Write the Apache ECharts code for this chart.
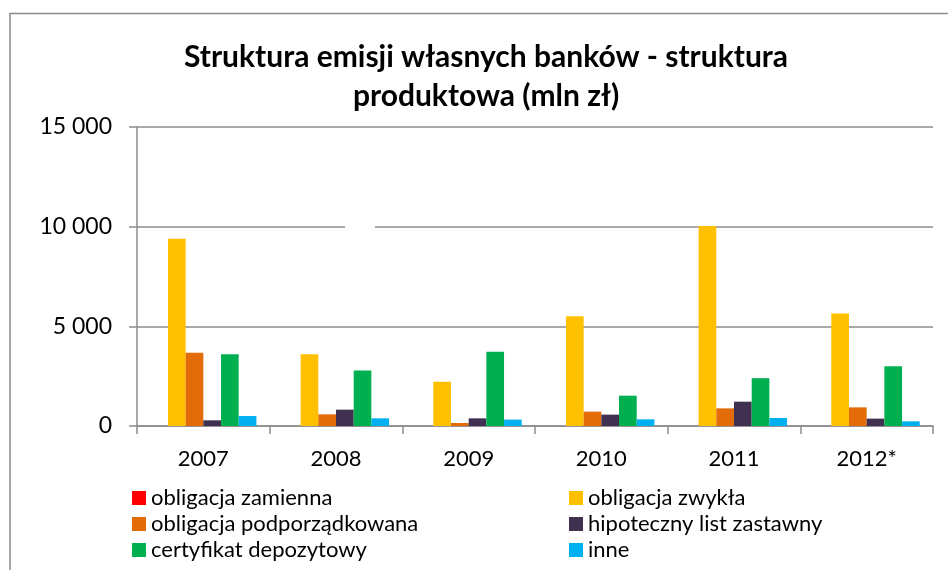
<!DOCTYPE html>
<html>
<head>
<meta charset="utf-8">
<script src="https://cdn.jsdelivr.net/npm/echarts@6/dist/echarts.min.js"></script>
<style>
  html, body { margin: 0; padding: 0; background: #fff; }
  #chart { width: 948px; height: 570px; }
</style>
</head>
<body>
<div id="chart"></div>
<script>
// dane (mln zł)
const years = ['2007', '2008', '2009', '2010', '2011', '2012*'];
const zamienna = [0, 0, 0, 0, 0, 0];
const zwykla = [9400, 3600, 2220, 5500, 10030, 5650];
const podporzadkowana = [3670, 585, 150, 720, 885, 935];
const hipoteczny = [285, 820, 385, 570, 1220, 370];
const certyfikat = [3600, 2785, 3720, 1520, 2400, 3000];
const inne = [500, 385, 320, 335, 400, 235];
const yTicks = [0, 5000, 10000, 15000];

const FONT = 'Lato';
const GRID_COLOR = '#8c8c8c';

const seriesList = [
  { name: 'obligacja zamienna', color: '#FF0000', data: zamienna },
  { name: 'obligacja zwykła', color: '#FFC000', data: zwykla },
  { name: 'obligacja podporządkowana', color: '#E36C09', data: podporzadkowana },
  { name: 'hipoteczny list zastawny', color: '#403151', data: hipoteczny },
  { name: 'certyfikat depozytowy', color: '#00B050', data: certyfikat },
  { name: 'inne', color: '#00B0F0', data: inne },
];

const fmt = v => String(v).replace(/\B(?=(\d{3})+(?!\d))/g, ' ');

const legendBase = {
  orient: 'vertical',
  top: 485,
  height: 80,
  padding: 0,
  itemWidth: 14,
  itemHeight: 14,
  itemGap: 0,
  icon: 'rect',
  selectedMode: false,
  textStyle: { fontFamily: FONT, fontSize: 22, color: '#000', lineHeight: 26 },
};

const option = {
  animation: false,
  backgroundColor: '#fff',
  title: {
    text: 'Struktura emisji własnych banków - struktura\nproduktowa (mln zł)',
    left: 486,
    textAlign: 'center',
    top: 38,
    padding: 0,
    textStyle: { fontFamily: FONT, fontSize: 30, fontWeight: 'bold', color: '#000', lineHeight: 39 },
  },
  legend: [
    Object.assign({}, legendBase, {
      left: 132,
      data: ['obligacja zamienna', 'obligacja podporządkowana', 'certyfikat depozytowy'],
    }),
    Object.assign({}, legendBase, {
      left: 569,
      data: ['obligacja zwykła', 'hipoteczny list zastawny', 'inne'],
    }),
  ],
  grid: { left: 137, right: 15, top: 127, bottom: 144 },
  xAxis: {
    type: 'category',
    data: years,
    axisLine: { lineStyle: { color: GRID_COLOR, width: 1.5 } },
    axisTick: { show: true, length: 8, lineStyle: { color: GRID_COLOR, width: 1.5 } },
    axisLabel: { margin: 22, fontFamily: FONT, fontSize: 22, color: '#000' },
  },
  yAxis: {
    type: 'value',
    min: yTicks[0],
    max: yTicks[yTicks.length - 1],
    interval: yTicks[1] - yTicks[0],
    axisLine: { show: true, lineStyle: { color: GRID_COLOR, width: 1.5 } },
    axisTick: { show: true, length: 8, lineStyle: { color: GRID_COLOR, width: 1.5 } },
    splitLine: { lineStyle: { color: GRID_COLOR, width: 1.5 } },
    axisLabel: { margin: 25, fontFamily: FONT, fontSize: 23, color: '#000', formatter: fmt },
  },
  series: seriesList.map(s => ({
    name: s.name,
    type: 'bar',
    data: s.data,
    barGap: '0%',
    barCategoryGap: '20%',
    itemStyle: { color: s.color },
  })),
  graphic: [
    {
      type: 'polyline',
      shape: { points: [[10, 600], [10, 13.5], [960, 13.5]] },
      style: { stroke: '#8c8c8c', lineWidth: 1.5, fill: null },
      silent: true,
    },
    {
      type: 'rect',
      shape: { x: 345, y: 222, width: 30, height: 9 },
      style: { fill: '#fff' },
      z: 10,
      silent: true,
    },
  ],
};

const myChart = echarts.init(document.getElementById('chart'));
myChart.setOption(option);
</script>
</body>
</html>
